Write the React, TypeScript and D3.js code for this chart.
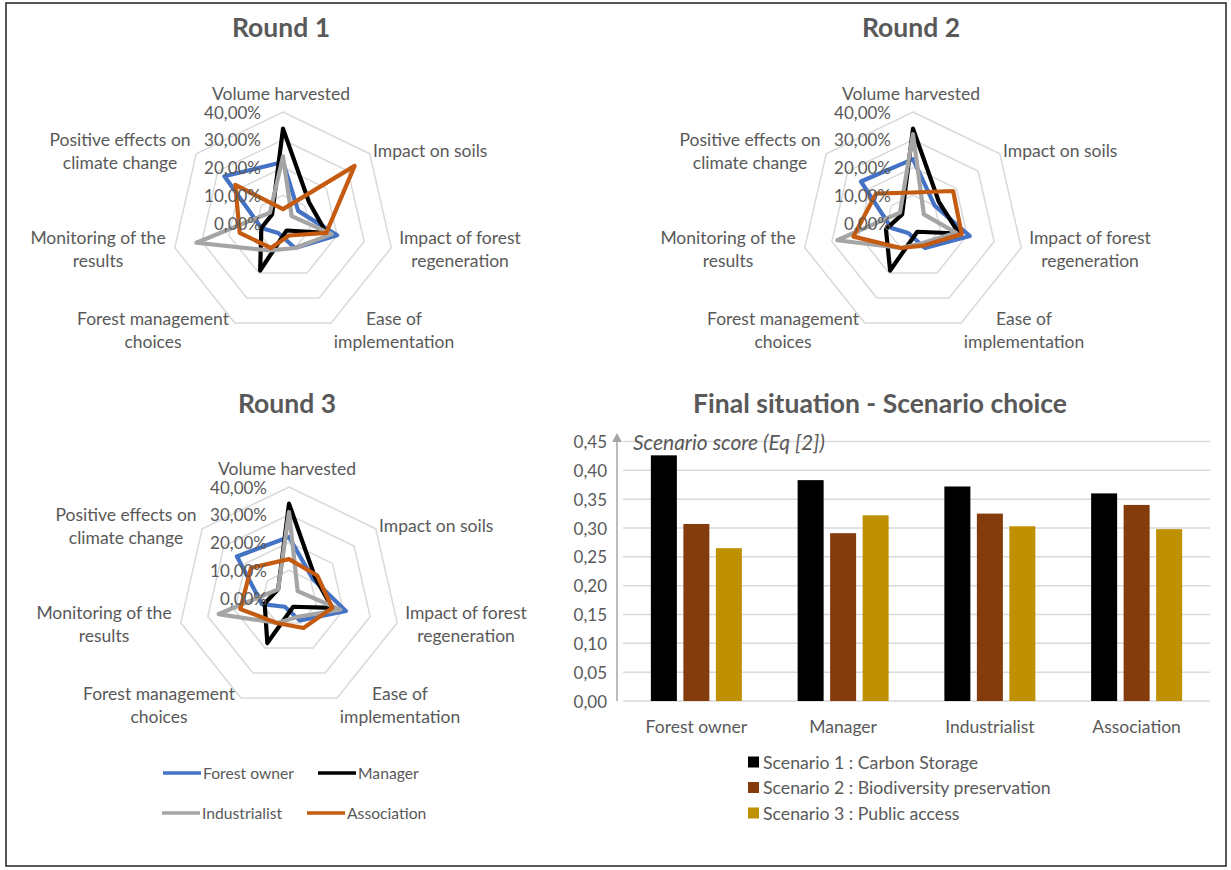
import * as d3 from 'd3'

// Radar axes (clockwise from the top)
const axisLabels: string[][] = [
  ['Volume harvested'],
  ['Impact on soils'],
  ['Impact of forest', 'regeneration'],
  ['Ease of', 'implementation'],
  ['Forest management', 'choices'],
  ['Monitoring of the', 'results'],
  ['Positive effects on', 'climate change'],
]

const actors = ['Forest owner', 'Manager', 'Industrialist', 'Association']
const actorColors = ['#4472C4', '#000000', '#A5A5A5', '#C55A11']

const ringTicks = [0, 10, 20, 30, 40]

// Round 1 (% per axis)
const r1ForestOwner = [22, 7, 20, 10, 4, 8, 27]
const r1Manager = [34, 12, 16, 3, 19, 8, 5]
const r1Industrialist = [24, 4, 18, 10, 11, 32, 6]
const r1Association = [5, 33, 16, 5, 10, 16, 22]

// Round 2
const r2ForestOwner = [23, 10, 21, 10, 4, 8, 24]
const r2Manager = [34, 12, 17, 3.5, 19, 10, 5]
const r2Industrialist = [32, 5, 16, 8, 10, 28, 6]
const r2Association = [11, 18.5, 18, 9, 10, 22, 17]

// Round 3
const r3ForestOwner = [22, 11, 21, 9, 3.5, 10, 24]
const r3Manager = [34, 12, 16, 3.5, 18, 9, 5]
const r3Industrialist = [31, 4, 19, 7.5, 10, 26, 5]
const r3Association = [14, 13, 16, 12, 10, 18, 17.5]

// Final situation - scenario scores per actor
const scenarios = [
  'Scenario 1 : Carbon Storage',
  'Scenario 2 : Biodiversity preservation',
  'Scenario 3 : Public access',
]
const scenarioColors = ['#000000', '#843C0C', '#BF9000']
const carbonStorage = [0.426, 0.383, 0.372, 0.36]
const biodiversity = [0.307, 0.291, 0.325, 0.34]
const publicAccess = [0.265, 0.322, 0.303, 0.298]
const barTicks = [0, 0.05, 0.1, 0.15, 0.2, 0.25, 0.3, 0.35, 0.4, 0.45]

const FONT = 'Lato, "Open Sans", sans-serif'
const TEXT = '#595959'
const GRID = '#D9D9D9'

// label placement relative to the radar centre (layout only)
const labelLayout = [
  { dx: -2, dy: -130, anchor: 'middle' },
  { dx: 90, dy: -73, anchor: 'start' },
  { dx: 177, dy: 14, anchor: 'middle' },
  { dx: 111, dy: 95, anchor: 'middle' },
  { dx: -130, dy: 95, anchor: 'middle' },
  { dx: -185, dy: 14, anchor: 'middle' },
  { dx: -163, dy: -84, anchor: 'middle' },
]

const nAxes = axisLabels.length
const angle = (i: number) => (i * 2 * Math.PI) / nAxes
const rScale = d3.scaleLinear().domain([0, 40]).range([0, 111])

const radialPath = d3
  .lineRadial<number>()
  .angle((_, i) => angle(i))
  .radius((d) => rScale(d))
  .curve(d3.curveLinearClosed)

function Radar({
  cx,
  cy,
  title,
  titleY,
  series,
}: {
  cx: number
  cy: number
  title: string
  titleY: number
  series: number[][]
}) {
  return (
    <g>
      <text
        x={cx - 2}
        y={titleY}
        textAnchor="middle"
        dominantBaseline="central"
        fontFamily={FONT}
        fontWeight="bold"
        fontSize={26.5}
        fill={TEXT}
      >
        {title}
      </text>
      <g transform={`translate(${cx},${cy})`}>
        {ringTicks.slice(1).map((t) => (
          <path
            key={t}
            d={radialPath(new Array(nAxes).fill(t)) || ''}
            fill="none"
            stroke={GRID}
            strokeWidth={1.5}
          />
        ))}
        {series.map((s, k) => (
          <path
            key={k}
            d={radialPath(s) || ''}
            fill="none"
            stroke={actorColors[k]}
            strokeWidth={4.2}
            strokeLinejoin="round"
          />
        ))}
        {ringTicks.map((t) => (
          <text
            key={t}
            x={-22}
            y={-rScale(t)}
            textAnchor="end"
            dominantBaseline="central"
            fontFamily={FONT}
            fontSize={17}
            fill={TEXT}
          >
            {`${d3.format('.2f')(t).replace('.', ',')}%`}
          </text>
        ))}
        {axisLabels.map((lines, i) => (
          <text
            key={i}
            textAnchor={labelLayout[i].anchor}
            dominantBaseline="central"
            fontFamily={FONT}
            fontSize={17.5}
            fill={TEXT}
          >
            {lines.map((line, j) => (
              <tspan key={j} x={labelLayout[i].dx} y={labelLayout[i].dy + j * 23}>
                {line}
              </tspan>
            ))}
          </text>
        ))}
      </g>
    </g>
  )
}

function BarChart() {
  const left = 623
  const right = 1210
  const y = d3.scaleLinear().domain([0, 0.45]).range([701, 441.5])
  const x0 = d3.scaleBand().domain(actors).range([left, right])
  const groupW = 91
  const x1 = d3
    .scaleBand()
    .domain(scenarios)
    .range([0, groupW])
    .paddingInner(0.2)
  const values = [carbonStorage, biodiversity, publicAccess]
  const fmt = (v: number) => d3.format('.2f')(v).replace('.', ',')

  return (
    <g>
      <text
        x={880}
        y={403}
        textAnchor="middle"
        dominantBaseline="central"
        fontFamily={FONT}
        fontWeight="bold"
        fontSize={26.5}
        fill={TEXT}
      >
        Final situation - Scenario choice
      </text>
      {barTicks.map((t) => (
        <g key={t}>
          <line
            x1={left}
            x2={right}
            y1={y(t)}
            y2={y(t)}
            stroke={GRID}
            strokeWidth={1.5}
          />
          <text
            x={607}
            y={y(t)}
            textAnchor="end"
            dominantBaseline="central"
            fontFamily={FONT}
            fontSize={17}
            fill={TEXT}
          >
            {fmt(t)}
          </text>
        </g>
      ))}
      {actors.map((a, i) => (
        <g key={a} transform={`translate(${(x0(a) || 0) + (x0.bandwidth() - groupW) / 2},0)`}>
          {scenarios.map((s, k) => (
            <rect
              key={s}
              x={x1(s) || 0}
              y={y(values[k][i])}
              width={x1.bandwidth()}
              height={y(0) - y(values[k][i])}
              fill={scenarioColors[k]}
            />
          ))}
        </g>
      ))}
      {/* y axis with arrow */}
      <line x1={617} x2={617} y1={y(0)} y2={440} stroke="#A6A6A6" strokeWidth={1.5} />
      <path d="M617,433 L612,442 L622,442 Z" fill="#A6A6A6" />
      <text
        x={633}
        y={y(0.45)}
        dominantBaseline="central"
        fontFamily={FONT}
        fontStyle="italic"
        fontSize={21}
        fill={TEXT}
      >
        Scenario score (Eq [2])
      </text>
      {actors.map((a) => (
        <text
          key={a}
          x={(x0(a) || 0) + x0.bandwidth() / 2}
          y={726}
          textAnchor="middle"
          dominantBaseline="central"
          fontFamily={FONT}
          fontSize={17.5}
          fill={TEXT}
        >
          {a}
        </text>
      ))}
      {scenarios.map((s, k) => (
        <g key={s} transform={`translate(748,${762 + k * 25.5})`}>
          <rect x={0} y={-5.5} width={11} height={11} fill={scenarioColors[k]} />
          <text
            x={15}
            y={0}
            dominantBaseline="central"
            fontFamily={FONT}
            fontSize={17.7}
            fill={TEXT}
          >
            {s}
          </text>
        </g>
      ))}
    </g>
  )
}

function RadarLegend() {
  const cols = [163, 318]
  const cols2 = [162, 307]
  return (
    <g>
      {actors.map((a, i) => {
        const row = Math.floor(i / 2)
        const x = row === 0 ? cols[i % 2] : cols2[i % 2]
        const yy = row === 0 ? 773 : 813
        return (
          <g key={a} transform={`translate(${x},${yy})`}>
            <line x1={0} x2={38} y1={0} y2={0} stroke={actorColors[i]} strokeWidth={3.5} />
            <text
              x={40}
              y={0}
              dominantBaseline="central"
              fontFamily={FONT}
              fontSize={15.7}
              fill={TEXT}
            >
              {a}
            </text>
          </g>
        )
      })}
    </g>
  )
}

export default function App() {
  return (
    <div style={{ position: 'absolute', left: 0, top: 0 }}>
      <svg width={1231} height={870} style={{ display: 'block', background: '#fff' }}>
        <rect x={0} y={0} width={1231} height={870} fill="#fff" />
        <rect x={6} y={3} width={1220} height={863} fill="none" stroke="#222" strokeWidth={1.5} />
        <Radar
          cx={283}
          cy={223}
          title="Round 1"
          titleY={27}
          series={[r1ForestOwner, r1Manager, r1Industrialist, r1Association]}
        />
        <Radar
          cx={913}
          cy={223}
          title="Round 2"
          titleY={27}
          series={[r2ForestOwner, r2Manager, r2Industrialist, r2Association]}
        />
        <Radar
          cx={289}
          cy={598}
          title="Round 3"
          titleY={403}
          series={[r3ForestOwner, r3Manager, r3Industrialist, r3Association]}
        />
        <RadarLegend />
        <BarChart />
      </svg>
    </div>
  )
}
